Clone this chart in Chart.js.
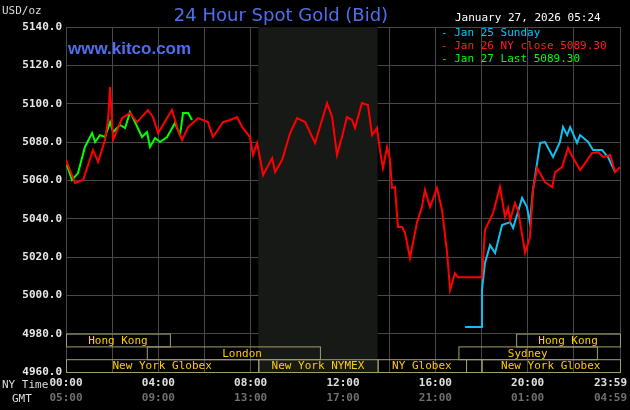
<!DOCTYPE html>
<html>
<head>
<meta charset="utf-8">
<script src="https://cdn.jsdelivr.net/npm/chart.js@4/dist/chart.umd.min.js"></script>
<style>
  html, body { margin: 0; padding: 0; background: #000; }
  #wrap { width: 630px; height: 410px; }
</style>
</head>
<body>
<div id="wrap"><canvas id="gold"></canvas></div>
<script>
// hours since NY midnight, price in USD/oz
const jan26Times = [0,.39,.74,1.17,1.39,1.69,1.82,1.91,2.04,2.43,2.77,3.08,3.55,3.77,3.99,4.59,4.85,5.03,5.29,5.72,6.15,6.37,6.8,7.11,7.41,7.63,7.97,8.1,8.28,8.54,8.93,9.06,9.36,9.71,10.01,10.36,10.79,11.09,11.31,11.53,11.74,12.0,12.17,12.39,12.52,12.82,13.08,13.26,13.47,13.6,13.73,13.91,14.04,14.12,14.25,14.38,14.56,14.69,14.9,15.21,15.42,15.55,15.77,16.07,16.29,16.51,16.64,16.85,16.98,18.02,18.15,18.5,18.8,19.02,19.15,19.24,19.45,19.58,19.89,20.1,20.23,20.41,20.75,21.06,21.19,21.49,21.75,21.97,22.27,22.49,22.79,23.05,23.27,23.57,23.79,24];
const jan26Values = [5070.6,5058.6,5060.2,5075.8,5069.6,5081,5091.5,5108.7,5081,5092.5,5095.1,5090.4,5096.7,5093,5084.7,5096.7,5086.3,5081,5087.8,5092.5,5090.4,5082.6,5090.4,5091.5,5093,5087.8,5082.6,5073.2,5079.5,5062.8,5071.6,5064.3,5070.6,5084.7,5092.5,5090.4,5079.5,5091.5,5100.3,5093,5073.2,5084.7,5093,5091.5,5087.3,5100.3,5099.3,5083.6,5087.3,5075.8,5066.4,5077.4,5070.6,5056,5056.5,5035.6,5035.6,5032.5,5019.5,5038.2,5046.1,5055,5046.1,5056,5044.5,5022.1,5002.8,5011.6,5009.5,5009.5,5034.1,5042.9,5056.5,5040.9,5045.6,5039.3,5048.2,5044.5,5022.1,5030.4,5055,5066.4,5059.1,5056.5,5064.3,5066.9,5076.9,5071.6,5065.4,5069,5074.3,5074.8,5072.2,5073.2,5064.3,5066.9];

const jan25Times = [17.29,18.02,18.02,18.15,18.37,18.59,18.89,19.24,19.37,19.76,19.97,20.1,20.23,20.54,20.75,21.1,21.4,21.53,21.71,21.84,22.14,22.27,22.62,22.83,23.22,23.48,23.79];
const jan25Values = [4983.5,4983.5,5002.8,5016.9,5026.2,5022.1,5036.7,5038.2,5035.1,5050.8,5046.1,5037.7,5055,5079.5,5080,5072.2,5080,5087.8,5083.6,5087.8,5079.5,5083.6,5080,5075.8,5075.8,5072.2,5064.3];

const jan27Times = [.04,.26,.52,.82,1.13,1.26,1.47,1.69,1.91,2.04,2.34,2.56,2.77,2.99,3.29,3.51,3.64,3.86,4.07,4.38,4.72,4.94,5.07,5.29,5.46];
const jan27Values = [5068,5060.2,5063.8,5077.4,5084.7,5080,5083.6,5082.6,5090.4,5085.2,5088.9,5087.3,5095.6,5090.4,5082.6,5085.2,5077.4,5082.1,5080,5082.6,5089.9,5083.6,5095.1,5095.1,5091.5];

const nyLabels = ['00:00','04:00','08:00','12:00','16:00','20:00','23:59'];
const gmtLabels = ['05:00','09:00','13:00','17:00','21:00','01:00','04:59'];
const labelHours = [0,4,8,12,16,20,24];

// session bars: [name, start, end, row] (row 0 = top)
const sessions = [
  ['Hong Kong', 0, 4.5, 0], ['Hong Kong', 19.5, 24, 0],
  ['London', 3.5, 11, 1], ['Sydney', 17, 23, 1],
  ['New York Globex', 0, 8.33, 2], ['New York NYMEX', 8.33, 13.5, 2],
  ['NY Globex', 13.5, 17.33, 2], ['', 17.33, 18, 2], ['New York Globex', 18, 24, 2]
];
const nymexStart = 8.33, nymexEnd = 13.5;

const toPts = (t, v) => t.map((x, i) => ({ x: x, y: v[i] }));
const mono = '"DejaVu Sans Mono", monospace';

const decor = {
  id: 'decor',
  beforeDatasetsDraw(chart) {
    const { ctx, chartArea: a, scales: { x } } = chart;
    ctx.save();
    ctx.fillStyle = '#161916';
    ctx.fillRect(x.getPixelForValue(nymexStart), a.top, x.getPixelForValue(nymexEnd) - x.getPixelForValue(nymexStart), a.bottom - a.top);
    ctx.restore();
  },
  afterDraw(chart) {
    const { ctx, chartArea: a, scales: { x } } = chart;
    ctx.save();
    // session bars
    const rowH = 12.8;
    ctx.strokeStyle = '#a39e6e';
    ctx.lineWidth = 1;
    ctx.font = '11px ' + mono;
    ctx.fillStyle = '#ffcc00';
    ctx.textBaseline = 'middle';
    sessions.forEach(([name, s, e, row]) => {
      const x0 = x.getPixelForValue(s), x1 = x.getPixelForValue(e);
      const y0 = a.bottom - (3 - row) * rowH;
      ctx.strokeRect(x0 + 0.5, y0 + 0.5, x1 - x0, rowH);
      ctx.textAlign = 'center';
      let cx = (x0 + x1) / 2;
      if (name === 'London') cx = x0 + (x1 - x0) * 0.55;
      ctx.fillText(name, cx, y0 + rowH / 2 + 1);
    });
    // x labels
    ctx.font = 'bold 11px ' + mono;
    labelHours.forEach((h, i) => {
      const px = x.getPixelForValue(h);
      ctx.textAlign = i === labelHours.length - 1 ? 'right' : 'center';
      const tx = i === labelHours.length - 1 ? 627 : px;
      ctx.fillStyle = '#e0e0e0';
      ctx.fillText(nyLabels[i], tx, 383);
      ctx.fillStyle = '#707070';
      ctx.fillText(gmtLabels[i], tx, 398);
    });
    ctx.font = '11px ' + mono;
    ctx.textAlign = 'left';
    ctx.fillStyle = '#dddddd';
    ctx.fillText('NY Time', 2, 385);
    ctx.fillText('GMT', 12, 399);
    ctx.fillText('USD/oz', 2, 11);
    // title
    ctx.font = '18px "DejaVu Sans", sans-serif';
    ctx.textAlign = 'center';
    ctx.fillStyle = '#4f6ff0';
    ctx.fillText('24 Hour Spot Gold (Bid)', 281, 16);
    ctx.font = 'bold 17px "Liberation Sans", Arial, sans-serif';
    ctx.textAlign = 'left';
    ctx.fillStyle = '#4f6ff0';
    ctx.fillText('www.kitco.com', 68, 49);
    // date + legend
    ctx.font = '11px ' + mono;
    ctx.fillStyle = '#ffffff';
    ctx.fillText('January 27, 2026 05:24', 455, 18);
    ctx.fillStyle = '#00c8ff';
    ctx.fillText('- Jan 25 Sunday', 441, 33);
    ctx.fillStyle = '#ff2020';
    ctx.fillText('- Jan 26 NY close 5089.30', 441, 46);
    ctx.fillStyle = '#00ff00';
    ctx.fillText('- Jan 27 Last 5089.30', 441, 59);
    ctx.restore();
  }
};

new Chart(document.getElementById('gold'), {
  type: 'line',
  data: {
    datasets: [
      { label: 'Jan 26', data: toPts(jan26Times, jan26Values), borderColor: '#ff0000', borderWidth: 2, pointRadius: 0, tension: 0 },
      { label: 'Jan 25', data: toPts(jan25Times, jan25Values), borderColor: '#10c0f0', borderWidth: 2, pointRadius: 0, tension: 0 },
      { label: 'Jan 27', data: toPts(jan27Times, jan27Values), borderColor: '#00ff00', borderWidth: 2, pointRadius: 0, tension: 0 }
    ]
  },
  options: {
    responsive: true,
    maintainAspectRatio: false,
    animation: false,
    layout: { padding: { top: 27, right: 10, left: 0, bottom: 0 } },
    plugins: { legend: { display: false }, tooltip: { enabled: false } },
    scales: {
      x: {
        type: 'linear', min: 0, max: 24,
        afterFit: (s) => { s.height = 38; },
        ticks: { stepSize: 2, display: false },
        grid: { color: '#484848', lineWidth: 1, drawTicks: false },
        border: { color: '#484848' }
      },
      y: {
        min: 4960, max: 5140,
        afterFit: (s) => { s.width = 66; },
        ticks: { stepSize: 20, color: '#e8e8e8', font: { family: mono, size: 11, weight: 'bold' }, padding: 4, callback: (v) => v.toFixed(1) },
        grid: { color: '#484848', lineWidth: 1, drawTicks: false },
        border: { color: '#484848' }
      }
    }
  },
  plugins: [decor]
});
</script>
</body>
</html>
